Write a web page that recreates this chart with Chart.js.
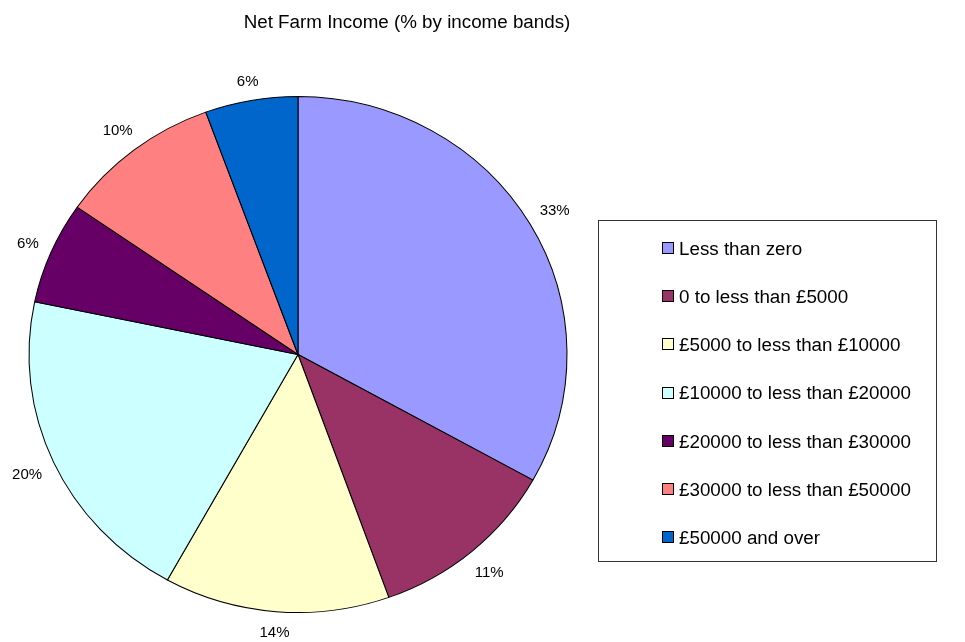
<!DOCTYPE html>
<html>
<head>
<meta charset="utf-8">
<title>Net Farm Income</title>
<script src="https://cdn.jsdelivr.net/npm/chart.js@4/dist/chart.umd.min.js"></script>
<style>
    html, body { margin: 0; padding: 0; background: #fff; }
    #pieCanvas { display: block; }
</style>
</head>
<body>
<canvas id="pieCanvas" width="965" height="642"></canvas>
<script>
// income bands, share of farms in each (%); labels show these rounded
const incomeBands = [
    'Less than zero',
    '0 to less than £5000',
    '£5000 to less than £10000',
    '£10000 to less than £20000',
    '£20000 to less than £30000',
    '£30000 to less than £50000',
    '£50000 and over'
];
const sharePct = [33.09, 11.43, 13.55, 20.2, 6.4, 9.76, 5.57];
const bandColours = ['#9999ff', '#993366', '#ffffcc', '#ccffff', '#660066', '#ff8080', '#0066cc'];
const chartTitle = 'Net Farm Income (% by income bands)';

const FONT = 'Arial, "Liberation Sans", sans-serif';
const X_STRETCH = 269 / 258; // pie is drawn a little wider than tall

// stretch the pie horizontally about its centre
const ovalPie = {
    id: 'ovalPie',
    beforeDatasetsDraw(chart) {
        const arc = chart.getDatasetMeta(0).data[0];
        const ctx = chart.ctx;
        ctx.save();
        ctx.translate(arc.x, arc.y);
        ctx.scale(X_STRETCH, 1);
        ctx.translate(-arc.x, -arc.y);
    },
    afterDatasetsDraw(chart) {
        chart.ctx.restore();
    }
};

// percentage labels just outside each slice
const sliceLabels = {
    id: 'sliceLabels',
    afterDatasetsDraw(chart) {
        const ctx = chart.ctx;
        const size = 15;
        const gap = 13;
        ctx.save();
        ctx.font = `${size}px ${FONT}`;
        ctx.fillStyle = '#000';
        ctx.textAlign = 'center';
        ctx.textBaseline = 'alphabetic';
        chart.getDatasetMeta(0).data.forEach((arc, i) => {
            const mid = (arc.startAngle + arc.endAngle) / 2;
            const cos = Math.cos(mid);
            const sin = Math.sin(mid);
            const text = `${Math.round(sharePct[i])}%`;
            const w = ctx.measureText(text).width;
            const h = size * 0.72;
            const ext = Math.abs(cos) * w / 2 + Math.abs(sin) * h / 2 + gap;
            const ex = arc.x + arc.outerRadius * X_STRETCH * cos;
            const ey = arc.y + arc.outerRadius * sin;
            ctx.fillText(text, ex + cos * ext, ey + sin * ext + h / 2);
        });
        ctx.restore();
    }
};

// title and boxed legend
const titleAndLegend = {
    id: 'titleAndLegend',
    afterDraw(chart) {
        const ctx = chart.ctx;
        const size = 18.8;
        ctx.save();
        ctx.fillStyle = '#000';
        ctx.font = `${size}px ${FONT}`;
        ctx.textAlign = 'center';
        ctx.textBaseline = 'alphabetic';
        ctx.fillText(chartTitle, 407, 28);

        ctx.strokeStyle = '#333';
        ctx.lineWidth = 1;
        ctx.strokeRect(598.5, 220.5, 338, 341);

        const colours = chart.data.datasets[0].backgroundColor;
        ctx.textAlign = 'left';
        chart.data.labels.forEach((label, i) => {
            const rowY = 248 + i * 48.2;
            const top = Math.round(rowY - 6);
            ctx.fillStyle = colours[i];
            ctx.fillRect(662, top, 11, 11);
            ctx.strokeStyle = '#000';
            ctx.strokeRect(662.5, top + 0.5, 11, 11);
            ctx.fillStyle = '#000';
            ctx.fillText(label, 679, rowY + size * 0.36);
        });
        ctx.restore();
    }
};

const pieChart = new Chart(document.getElementById('pieCanvas'), {
    type: 'pie',
    data: {
        labels: incomeBands,
        datasets: [{
            data: sharePct,
            backgroundColor: bandColours,
            borderColor: '#000',
            borderWidth: 1
        }]
    },
    options: {
        responsive: false,
        animation: false,
        layout: {
            padding: { top: 96, bottom: 29, left: 1, right: 370 }
        },
        plugins: {
            legend: { display: false },
            title: { display: false },
            tooltip: { enabled: false }
        }
    },
    plugins: [ovalPie, sliceLabels, titleAndLegend]
});
</script>
</body>
</html>
